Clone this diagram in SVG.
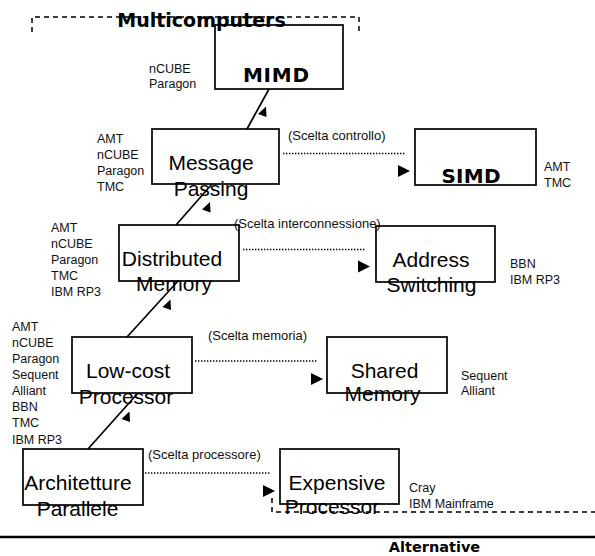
<svg xmlns="http://www.w3.org/2000/svg" width="595" height="556" viewBox="0 0 595 556">
<defs>
<style>
.box{fill:none;stroke:#000;stroke-width:1.7}
.big{font-family:"Liberation Sans",Arial,sans-serif;font-size:21px;fill:#000;text-anchor:middle}
.bold{font-family:"DejaVu Sans",Verdana,sans-serif;font-weight:bold;fill:#000;text-anchor:middle}
.lab{font-family:"Liberation Sans",Arial,sans-serif;font-size:12.5px;fill:#111}
.cho{font-family:"Liberation Sans",Arial,sans-serif;font-size:13px;fill:#111}
.dot{fill:none;stroke:#000;stroke-width:1.4;stroke-dasharray:1.4 1.6}
.dash{fill:none;stroke:#000;stroke-width:1.5;stroke-dasharray:5 4}
.ln{fill:none;stroke:#000;stroke-width:1.7}
.ah{fill:#000}
</style>
<path id="hh" d="M0,0 L-12,-6 L-12,6 Z"/>
<path id="dh" d="M0,0 L-8,7.5 L0.5,10.5 Z"/>
</defs>
<rect width="595" height="556" fill="#fff"/>

<g id="groups">
<path class="dash" d="M32,32 V17 H359 V33"/>
<path class="dash" d="M272,498 V512 H595"/>
<line x1="0" y1="537" x2="595" y2="537" stroke="#000" stroke-width="2.5"/>
<text class="bold" x="201.5" y="26.5" font-size="19">Multicomputers</text>
<text class="bold" x="434.5" y="552" font-size="14.5">Alternative</text>
</g>

<g id="connectors">
<line class="ln" x1="247" y1="129" x2="269" y2="89"/>
<line class="ln" x1="176" y1="225" x2="212" y2="184"/>
<line class="ln" x1="127" y1="337" x2="178" y2="281"/>
<line class="ln" x1="88" y1="449" x2="138" y2="393"/>
<use href="#dh" class="ah" x="266" y="106.5"/>
<use href="#dh" class="ah" x="210" y="202"/>
<use href="#dh" class="ah" x="170.5" y="299.5"/>
<use href="#dh" class="ah" x="129.5" y="411.5"/>
<line class="dot" x1="283" y1="153.5" x2="405" y2="153.5"/>
<line class="dot" x1="243" y1="249.5" x2="365" y2="249.5"/>
<line class="dot" x1="195" y1="361" x2="317" y2="361"/>
<line class="dot" x1="145" y1="473" x2="270" y2="473"/>
<use href="#hh" class="ah" x="410" y="171"/>
<use href="#hh" class="ah" x="370" y="266.5"/>
<use href="#hh" class="ah" x="323" y="379"/>
<use href="#hh" class="ah" x="275" y="491"/>
<text class="cho" x="288" y="139.5">(Scelta controllo)</text>
<text class="cho" x="234" y="227.5">(Scelta interconnessione)</text>
<text class="cho" x="208" y="339.5">(Scelta memoria)</text>
<text class="cho" x="148" y="458.5">(Scelta processore)</text>
</g>

<g id="mimd">
<rect class="box" x="215" y="25" width="128" height="64"/>
<text class="bold" x="276" y="82" font-size="20" textLength="66" lengthAdjust="spacing">MIMD</text>
<text class="lab" x="149" y="73">nCUBE</text>
<text class="lab" x="149" y="88">Paragon</text>
</g>

<g id="simd">
<rect class="box" x="415" y="129" width="121" height="56"/>
<text class="bold" x="471" y="183" font-size="20" textLength="59" lengthAdjust="spacing">SIMD</text>
<text class="lab" x="544" y="171">AMT</text>
<text class="lab" x="544" y="187">TMC</text>
</g>

<g id="message-passing">
<rect class="box" x="152" y="129" width="127" height="55"/>
<text class="big" x="211" y="170">Message</text>
<text class="big" x="211" y="196">Passing</text>
<text class="lab" x="97" y="143">AMT</text>
<text class="lab" x="97" y="159">nCUBE</text>
<text class="lab" x="97" y="175">Paragon</text>
<text class="lab" x="97" y="191">TMC</text>
</g>

<g id="distributed-memory">
<rect class="box" x="119" y="225" width="120" height="56"/>
<text class="big" x="172" y="266">Distributed</text>
<text class="big" x="174" y="291">Memory</text>
<text class="lab" x="51" y="231.5">AMT</text>
<text class="lab" x="51" y="247.5">nCUBE</text>
<text class="lab" x="51" y="263.5">Paragon</text>
<text class="lab" x="51" y="279.5">TMC</text>
<text class="lab" x="51" y="295.5">IBM RP3</text>
</g>

<g id="address-switching">
<rect class="box" x="376" y="226" width="119" height="56"/>
<text class="big" x="431" y="267">Address</text>
<text class="big" x="431.5" y="292">Switching</text>
<text class="lab" x="510" y="267.5">BBN</text>
<text class="lab" x="510" y="283.5">IBM RP3</text>
</g>

<g id="low-cost-processor">
<rect class="box" x="72" y="337" width="120" height="56"/>
<text class="big" x="128" y="378">Low-cost</text>
<text class="big" x="126" y="404">Processor</text>
<text class="lab" x="12" y="331">AMT</text>
<text class="lab" x="12" y="347">nCUBE</text>
<text class="lab" x="12" y="363">Paragon</text>
<text class="lab" x="12" y="379">Sequent</text>
<text class="lab" x="12" y="395">Alliant</text>
<text class="lab" x="12" y="411">BBN</text>
<text class="lab" x="12" y="427">TMC</text>
<text class="lab" x="12" y="443.5">IBM RP3</text>
</g>

<g id="shared-memory">
<rect class="box" x="327" y="337" width="120" height="56"/>
<text class="big" x="384.5" y="378">Shared</text>
<text class="big" x="382.5" y="401">Memory</text>
<text class="lab" x="461" y="380">Sequent</text>
<text class="lab" x="461" y="395">Alliant</text>
</g>

<g id="architetture-parallele">
<rect class="box" x="23" y="449" width="120" height="56"/>
<text class="big" x="78" y="490">Architetture</text>
<text class="big" x="77.5" y="516">Parallele</text>
</g>

<g id="expensive-processor">
<rect class="box" x="280" y="449" width="119" height="55"/>
<text class="big" x="337" y="490">Expensive</text>
<text class="big" x="332" y="514">Processor</text>
<text class="lab" x="409" y="491.5">Cray</text>
<text class="lab" x="409" y="507.5">IBM Mainframe</text>
</g>
</svg>
